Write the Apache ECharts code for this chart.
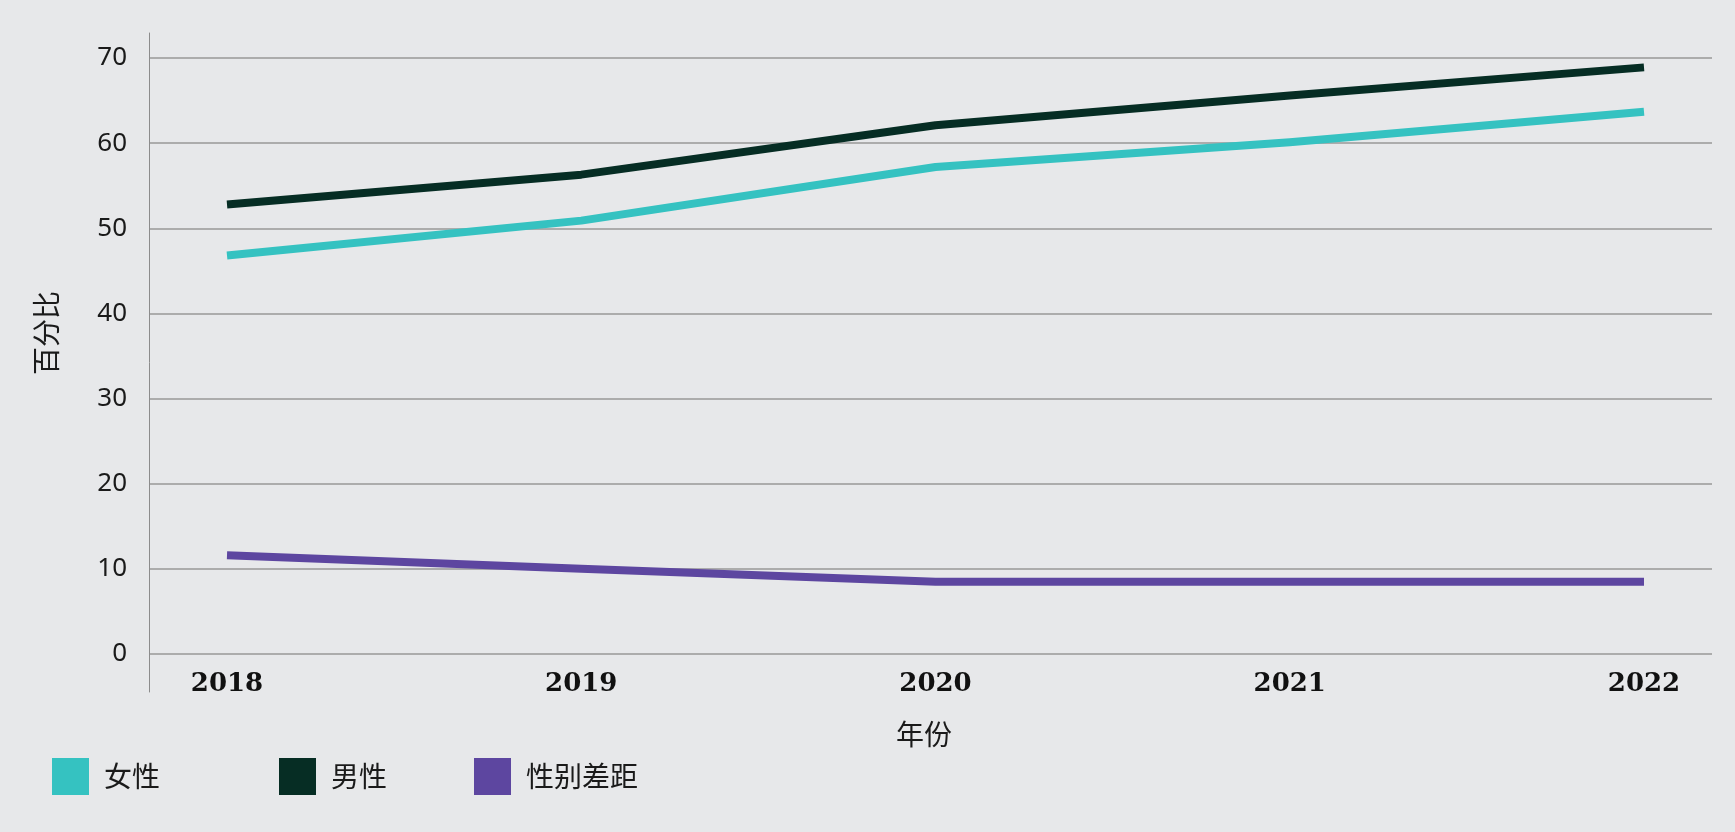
<!DOCTYPE html>
<html>
<head>
<meta charset="utf-8">
<script src="https://cdn.jsdelivr.net/npm/echarts@6/dist/echarts.min.js"></script>
<style>
html,body{margin:0;padding:0;background:#e7e8ea;}
#chart{width:1735px;height:832px;}
</style>
</head>
<body>
<div id="chart"></div>
<script>
// ---- data ----
const years = ['2018', '2019', '2020', '2021', '2022'];
const female = [46.8, 50.9, 57.2, 60.1, 63.7];
const male = [52.8, 56.3, 62.1, 65.6, 68.9];
const gap = [11.6, 10.0, 8.5, 8.5, 8.5];
const seriesNames = ['女性', '男性', '性别差距'];
const yMin = 0, yMax = 70, yStep = 10;
const xTitle = '年份';
const yTitle = '百分比';

const colors = ['#35c2c1', '#062d24', '#5d46a0'];
const cjk = '"Noto Sans CJK SC", "Noto Sans", sans-serif';

const chart = echarts.init(document.getElementById('chart'));
const legendPos = [52, 279, 474];

const option = {
  backgroundColor: '#e7e8ea',
  animation: false,
  grid: [
    {left: 149, top: 33, width: 1, bottom: 140},
    {left: 149, right: 23, top: 58, bottom: 178},
    {left: 227, right: 91, top: 58, bottom: 178}
  ],
  xAxis: [
    {gridIndex: 0, type: 'value', show: false},
    {gridIndex: 1, type: 'value', show: false},
    {
      gridIndex: 2, type: 'category', data: years, boundaryGap: false,
      axisLine: {show: false}, axisTick: {show: false}, splitLine: {show: false},
      axisLabel: {margin: 17, fontFamily: 'DejaVu Serif', fontWeight: 'bold', fontSize: 26, color: '#111'}
    }
  ],
  yAxis: [
    {
      gridIndex: 0, type: 'value', min: 0, max: 1,
      axisLine: {show: true, onZero: false, lineStyle: {color: '#8c8c8c', width: 1}},
      axisLabel: {show: false}, axisTick: {show: false}, splitLine: {show: false}
    },
    {
      gridIndex: 1, type: 'value', min: yMin, max: yMax, interval: yStep,
      axisLine: {show: false}, axisTick: {show: false},
      axisLabel: {margin: 22, fontFamily: 'Noto Sans', fontSize: 26, color: '#1a1a1a'},
      splitLine: {lineStyle: {color: '#acacac', width: 2}}
    },
    {gridIndex: 2, type: 'value', min: yMin, max: yMax, show: false}
  ],
  legend: seriesNames.map((n, i) => ({
    data: [n], left: legendPos[i], top: 758, orient: 'horizontal', padding: 0,
    icon: 'rect', itemWidth: 37, itemHeight: 37,
    textStyle: {fontFamily: cjk, fontSize: 28, color: '#1a1a1a', padding: [0, 0, 0, 10]},
    selectedMode: false
  })),
  graphic: [
    {
      type: 'text', x: 924, y: 734,
      style: {text: xTitle, font: '28px ' + cjk, fill: '#1a1a1a', textAlign: 'center', textVerticalAlign: 'middle'}
    },
    {
      type: 'text', x: 46, y: 333, rotation: Math.PI / 2,
      style: {text: yTitle, font: '28px ' + cjk, fill: '#1a1a1a', textAlign: 'center', textVerticalAlign: 'middle'}
    }
  ],
  series: [female, male, gap].map((d, i) => ({
    name: seriesNames[i], type: 'line', xAxisIndex: 2, yAxisIndex: 2,
    data: d, showSymbol: false, symbol: 'none',
    lineStyle: {color: colors[i], width: 8, cap: 'butt', join: 'round'},
    itemStyle: {color: colors[i]}
  }))
};
chart.setOption(option);
</script>
</body>
</html>
